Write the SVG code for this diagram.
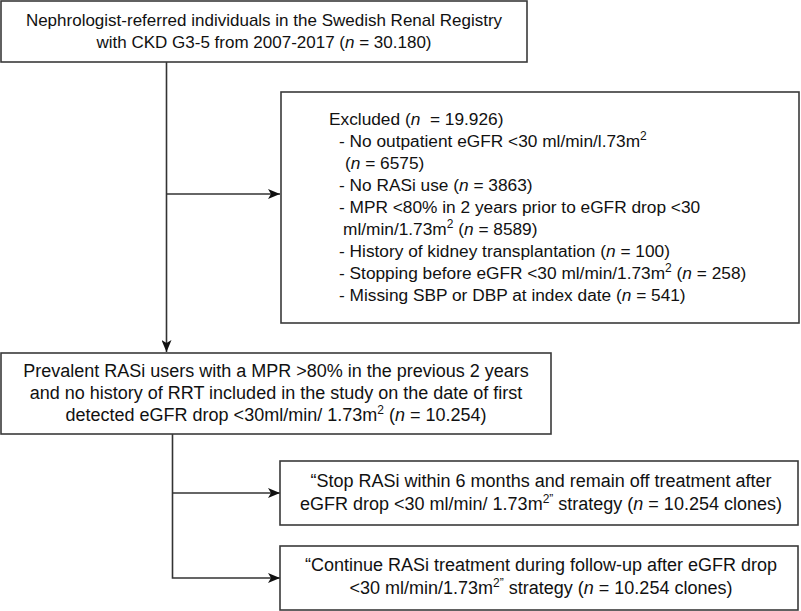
<svg xmlns="http://www.w3.org/2000/svg" width="801" height="611" viewBox="0 0 801 611">
<defs>
<style>
.box{fill:#fff;stroke:#3a3a3a;stroke-width:1.6}
.t{font-family:"Liberation Sans",Arial,sans-serif;font-size:17.3px;fill:#111}
.t1{font-size:17px}
.t3{font-size:18px}
.c{text-anchor:middle}
.i{font-style:italic}
.s{font-size:12px;baseline-shift:super}
.ln{fill:none;stroke:#333;stroke-width:1.6}
</style>
<marker id="ah" viewBox="0 0 12 10" markerWidth="12" markerHeight="10" refX="12" refY="5" orient="auto" markerUnits="userSpaceOnUse">
<path d="M0,0 L12,5 L0,10 L3,5 z" fill="#111"/>
</marker>
</defs>
<rect width="801" height="611" fill="#fff"/>
<g id="connectors">
<line class="ln" x1="166.5" y1="62" x2="166.5" y2="352" marker-end="url(#ah)"/>
<line class="ln" x1="166.5" y1="194" x2="280" y2="194" marker-end="url(#ah)"/>
<polyline class="ln" points="172.5,434 172.5,578 280,578" marker-end="url(#ah)"/>
<line class="ln" x1="172.5" y1="493" x2="280" y2="493" marker-end="url(#ah)"/>
</g>
<g id="n1">
<rect class="box" x="1" y="1" width="526" height="61"/>
<text class="t t1 c" x="264" y="26">Nephrologist-referred individuals in the Swedish Renal Registry</text>
<text class="t t1 c" x="264" y="48">with CKD G3-5 from 2007-2017 (<tspan class="i">n</tspan> = 30.180)</text>
</g>
<g id="n2">
<rect class="box" x="281" y="92" width="518" height="231"/>
<text class="t" x="329" y="125">Excluded (<tspan class="i">n</tspan>&#160; = 19.926)</text>
<text class="t" x="339" y="147">- No outpatient eGFR &lt;30 ml/min/l.73m<tspan class="s">2</tspan></text>
<text class="t" x="345" y="169">(<tspan class="i">n</tspan> = 6575)</text>
<text class="t" x="339" y="191">- No RASi use (<tspan class="i">n</tspan> = 3863)</text>
<text class="t" x="339" y="213">- MPR &lt;80% in 2 years prior to eGFR drop &lt;30</text>
<text class="t" x="343" y="235">ml/min/1.73m<tspan class="s">2</tspan> (<tspan class="i">n</tspan> = 8589)</text>
<text class="t" x="339" y="257">- History of kidney transplantation (<tspan class="i">n</tspan> = 100)</text>
<text class="t" x="339" y="279">- Stopping before eGFR &lt;30 ml/min/1.73m<tspan class="s">2</tspan> (<tspan class="i">n</tspan> = 258)</text>
<text class="t" x="339" y="301">- Missing SBP or DBP at index date (<tspan class="i">n</tspan> = 541)</text>
</g>
<g id="n3">
<rect class="box" x="1" y="353" width="550" height="81"/>
<text class="t t3 c" x="276" y="377">Prevalent RASi users with a MPR &gt;80% in the previous 2 years</text>
<text class="t t3 c" x="276" y="399">and no history of RRT included in the study on the date of first</text>
<text class="t t3 c" x="276" y="421">detected eGFR drop &lt;30ml/min/ 1.73m<tspan class="s">2</tspan> (<tspan class="i">n</tspan> = 10.254)</text>
</g>
<g id="n4">
<rect class="box" x="280" y="461" width="518" height="64"/>
<text class="t t3 c" x="541" y="487">“Stop RASi within 6 months and remain off treatment after</text>
<text class="t t3 c" x="541" y="510">eGFR drop &lt;30 ml/min/ 1.73m<tspan class="s">2”</tspan> strategy (<tspan class="i">n</tspan> = 10.254 clones)</text>
</g>
<g id="n5">
<rect class="box" x="280" y="546" width="518" height="64"/>
<text class="t t3 c" x="541" y="571">“Continue RASi treatment during follow-up after eGFR drop</text>
<text class="t t3 c" x="541" y="594">&lt;30 ml/min/1.73m<tspan class="s">2”</tspan> strategy (<tspan class="i">n</tspan> = 10.254 clones)</text>
</g>
</svg>
